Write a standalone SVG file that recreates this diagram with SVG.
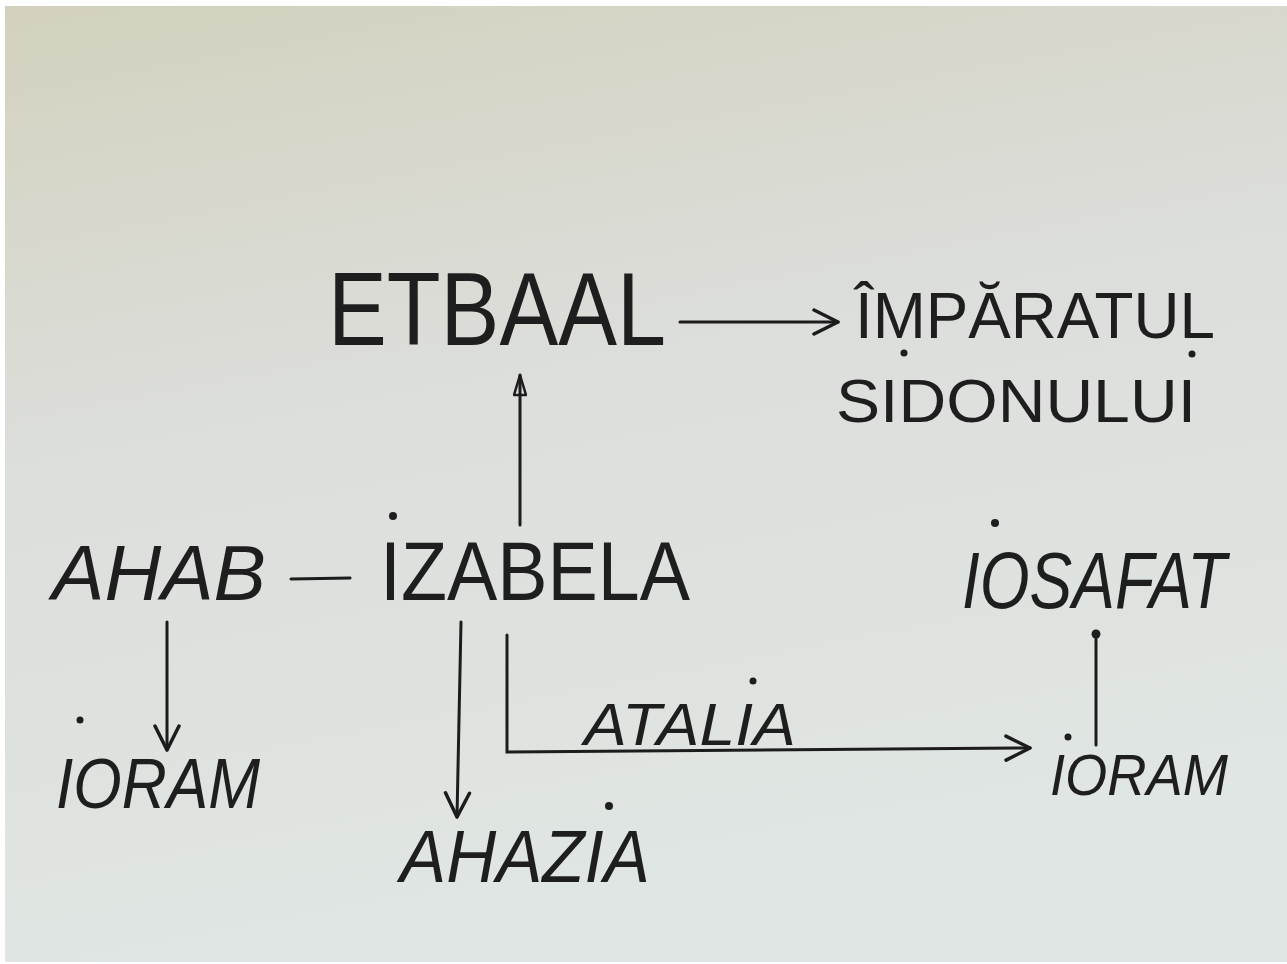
<svg xmlns="http://www.w3.org/2000/svg" width="1287" height="964" viewBox="0 0 1287 964">
  <defs>
    <linearGradient id="paper" x1="0" y1="0" x2="0.25" y2="1">
      <stop offset="0" stop-color="#d3d1be"/>
      <stop offset="0.45" stop-color="#dcdedb"/>
      <stop offset="1" stop-color="#e0e6e3"/>
    </linearGradient>
    <marker id="bighead" viewBox="0 0 30 30" refX="28" refY="15" markerWidth="30" markerHeight="30" markerUnits="userSpaceOnUse" orient="auto">
      <path d="M4,3 L28,15 L4,27" fill="none" stroke="#1c1c1c" stroke-width="3.5" stroke-linecap="round" stroke-linejoin="round"/>
    </marker>
    <marker id="tri" viewBox="0 0 24 14" refX="22" refY="7" markerWidth="24" markerHeight="14" markerUnits="userSpaceOnUse" orient="auto">
      <path d="M2,1 L22,7 L2,13 Z" fill="none" stroke="#1c1c1c" stroke-width="2.5" stroke-linejoin="round"/>
    </marker>
  </defs>
  <style>
    text { font-family: "Liberation Sans", Arial, sans-serif; fill: #1e1e1e; }
    .it { font-style: italic; }
    .ln { fill: none; stroke: #1c1c1c; stroke-width: 3; stroke-linecap: round; }
    .dot { fill: #1e1e1e; }
  </style>

  <rect x="0" y="0" width="1287" height="964" fill="#ffffff"/>
  <rect x="5" y="6" width="1282" height="956" fill="url(#paper)"/>

  <g id="connectors">
    <line class="ln" x1="680" y1="322" x2="838" y2="322" marker-end="url(#bighead)"/>
    <line class="ln" x1="520" y1="525" x2="520" y2="375" stroke-width="2.5" marker-end="url(#tri)"/>
    <line class="ln" x1="291" y1="579" x2="350" y2="578" stroke-width="4"/>
    <line class="ln" x1="167" y1="622" x2="167" y2="750" marker-end="url(#bighead)"/>
    <line class="ln" x1="461" y1="622" x2="457" y2="817" stroke-width="2.5" marker-end="url(#bighead)"/>
    <polyline class="ln" points="507,635 507,752 1030,748" stroke-width="3.5" marker-end="url(#bighead)"/>
    <line class="ln" x1="1096" y1="635" x2="1096" y2="745" stroke-width="2.5"/>
    <circle class="dot" cx="1096" cy="634" r="4.5"/>
  </g>

  <g id="etbaal">
    <text x="328" y="345" font-size="104" textLength="338" lengthAdjust="spacingAndGlyphs">ETBAAL</text>
  </g>

  <g id="imparatul-sidonului">
    <text x="855" y="338" font-size="64" textLength="360" lengthAdjust="spacingAndGlyphs">ÎMPĂRATUL</text>
    <text x="836" y="422" font-size="62" textLength="360" lengthAdjust="spacingAndGlyphs">SIDONULUI</text>
    <circle class="dot" cx="904" cy="353" r="3.5"/>
    <circle class="dot" cx="1192" cy="354" r="3.5"/>
  </g>

  <g id="ahab">
    <text class="it" x="52" y="600" font-size="77" textLength="214" lengthAdjust="spacingAndGlyphs">AHAB</text>
  </g>

  <g id="izabela">
    <text x="380" y="600" font-size="84" textLength="310" lengthAdjust="spacingAndGlyphs">IZABELA</text>
    <circle class="dot" cx="393" cy="516" r="4"/>
  </g>

  <g id="iosafat">
    <text class="it" transform="translate(962,608) scale(0.8,1)" x="0" y="0" font-size="80">IOSAFAT</text>
    <circle class="dot" cx="995" cy="523" r="4"/>
  </g>

  <g id="ioram-left">
    <text class="it" x="56" y="808" font-size="71" textLength="204" lengthAdjust="spacingAndGlyphs">IORAM</text>
    <circle class="dot" cx="80" cy="720" r="3.5"/>
  </g>

  <g id="ahazia">
    <text class="it" x="400" y="882" font-size="75" textLength="250" lengthAdjust="spacingAndGlyphs">AHAZIA</text>
    <circle class="dot" cx="609" cy="806" r="4"/>
  </g>

  <g id="atalia">
    <text class="it" x="584" y="745" font-size="60" textLength="212" lengthAdjust="spacingAndGlyphs">ATALIA</text>
    <circle class="dot" cx="753" cy="681" r="3.5"/>
  </g>

  <g id="ioram-right">
    <text class="it" x="1050" y="795" font-size="58" textLength="178" lengthAdjust="spacingAndGlyphs">IORAM</text>
    <circle class="dot" cx="1068" cy="737" r="3.5"/>
  </g>
</svg>
